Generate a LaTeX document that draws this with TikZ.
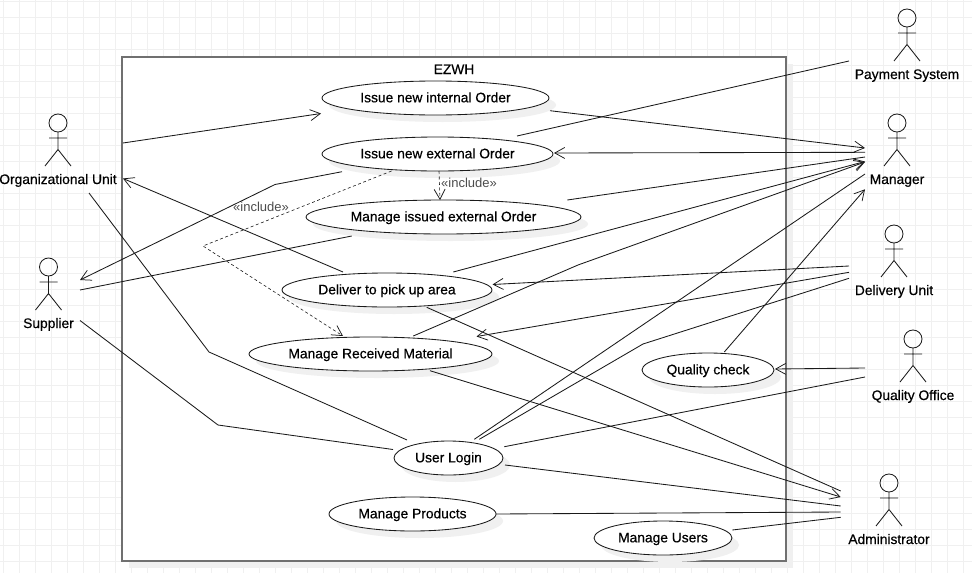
\documentclass[tikz,border=0pt]{standalone}
\usepackage{fontspec}
\setmainfont{Liberation Sans}
\newfontfamily\labelfont[FakeBold=0.45]{Liberation Sans}
\usetikzlibrary{arrows.meta,shapes.geometric,shadows}
\definecolor{gridgray}{HTML}{F0F0F0}
\definecolor{shadowgray}{HTML}{F0F0F0}
\definecolor{framegray}{HTML}{707070}
\definecolor{inkgray}{HTML}{1A1A1A}
\begin{document}
\begin{tikzpicture}[x=1pt,y=-1pt,line width=0.85pt,inkgray,
    usecase/.style={ellipse,draw,fill=white,inner sep=0pt,outer sep=0pt,minimum height=34pt,
      font=\labelfont\fontsize{13.8}{16}\selectfont,text=black,text height=11pt,text depth=2.4pt,
      copy shadow={shadow xshift=7pt,shadow yshift=-7pt,draw=none,fill=shadowgray}},
    actor head/.style={circle,draw,inner sep=0pt,outer sep=0pt,minimum size=18pt},
    actor text/.style={inner sep=0pt,anchor=base,font=\labelfont\fontsize{13.8}{16}\selectfont,text=black},
    stereo/.style={inner sep=0pt,anchor=base,font=\fontsize{13}{15}\selectfont,text=black!70},
    open/.style={-{Straight Barb[length=10pt,width=11pt,line width=0.75pt]}},
    dep/.style={dash pattern=on 3pt off 2.5pt,line width=0.6pt}
  ]
  \useasboundingbox (0,0) rectangle (972,573);

  % grid
  \foreach \x in {3,19,...,972} \draw[gridgray] (\x,0) -- (\x,573);
  \foreach \y in {1,17,...,573} \draw[gridgray] (0,\y) -- (972,\y);

  % system box
  \node[draw=framegray,line width=1.5pt,fill=white,rectangle,inner sep=0pt,outer sep=0pt,
    minimum width=664pt,minimum height=504pt,
    copy shadow={shadow xshift=7pt,shadow yshift=-7pt,draw=none,fill=shadowgray}] (ezwh) at (454,309) {};
  \node[actor text] (ezwhname) at (454,74) {EZWH};

  % use cases
  \node[usecase,minimum width=227pt] (intord) at (435.5,98) {Issue new internal Order};
  \node[usecase,minimum width=231pt] (extord) at (437.5,154) {Issue new external Order};
  \node[usecase,minimum width=275pt] (issued) at (443.5,217) {Manage issued external Order};
  \node[usecase,minimum width=210pt] (pickup) at (387,290) {Deliver to pick up area};
  \node[usecase,minimum width=243pt] (received) at (370.5,354) {Manage Received Material};
  \node[usecase,minimum width=132pt] (quality) at (708,370) {Quality check};
  \node[usecase,minimum width=109pt] (login) at (448.5,458) {User Login};
  \node[usecase,minimum width=167pt] (products) at (412.5,514) {Manage Products};
  \node[usecase,minimum width=138pt] (users) at (663,538) {Manage Users};

  % actors
  \foreach \name/\x/\y/\txt in {org/58/123/Organizational Unit,sup/48.5/267/Supplier,
      pay/907/18/Payment System,mgr/897/123/Manager,del/894/234/Delivery Unit,
      qof/913/339/Quality Office,adm/889/483/Administrator}
  {
    \node[actor head] (\name) at (\x,\y) {};
    \draw (\name.south) -- ++(0,17.5) -- ++(-13,16.5)
      (\name.south) ++(0,17.5) -- ++(13,16.5)
      (\name.south) ++(-9,6) -- ++(18,0);
    \node[actor text] (\name label) at (\x,\y+61) {\txt};
  }

  % bends
  \coordinate (bendsup) at (275,184.5);
  \coordinate (bendlogin) at (218,425);
  \coordinate (bendorg) at (209,352);
  \coordinate (bendinc) at (203,246);
  \coordinate (bendrec) at (578,265);
  \coordinate (benddel) at (643,344);

  \path%
   ([shift={(65,20)}]org.center) edge [open] ([shift={(-114.5,15.5)}]intord.center)
   ([shift={(114.5,12.7)}]intord.center) edge [open] ([shift={(-32,25)}]mgr.center)
   ([shift={(-32,29.3)}]mgr.center) edge [open] ([shift={(116.5,-1)}]extord.center)
   ([shift={(79.5,-18)}]extord.center) edge ([shift={(-58,43)}]pay.center)
   ([shift={(-44,-18)}]pickup.center) edge [open] ([shift={(65,55.5)}]org.center)
   ([shift={(31.5,23)}]sup.center) edge ([shift={(-91.8,19)}]issued.center)
   ([shift={(123.8,-17)}]issued.center) edge ([shift={(-32,34)}]mgr.center)
   ([shift={(66.3,-18)}]pickup.center) edge [open] ([shift={(-32,38.5)}]mgr.center)
   ([shift={(-45,32)}]del.center) edge [open] ([shift={(105.5,-5.5)}]pickup.center)
   ([shift={(-45,38.3)}]del.center) edge [open] ([shift={(106,-17.5)}]received.center)
   ([shift={(25.8,-18.7)}]login.center) edge ([shift={(-32,51)}]mgr.center)
   ([shift={(16.3,-18)}]quality.center) edge [open] ([shift={(-32,66.3)}]mgr.center)
   ([shift={(-48,29)}]qof.center) edge [open] ([shift={(67,-1)}]quality.center)
   ([shift={(55.8,-11.3)}]login.center) edge ([shift={(-48,38)}]qof.center)
   ([shift={(56.5,7)}]login.center) edge ([shift={(-48.3,23)}]adm.center)
   ([shift={(39.7,17.3)}]pickup.center) edge ([shift={(-48.3,8)}]adm.center)
   ([shift={(59.5,16.7)}]received.center) edge [open] ([shift={(-48.3,14)}]adm.center)
   ([shift={(83.5,0)}]products.center) edge ([shift={(-48.3,29)}]adm.center)
   ([shift={(69.3,-8)}]users.center) edge ([shift={(-48.3,34.3)}]adm.center);

  \draw[open] ([shift={(-95.5,17.7)}]extord.center) -- (bendsup) -- ([shift={(31.5,13)}]sup.center);
  \draw ([shift={(31.5,53.5)}]sup.center) -- (bendlogin) -- ([shift={(-55.5,-8.5)}]login.center);
  \draw ([shift={(31,70)}]org.center) -- (bendorg) -- ([shift={(-41.5,-18)}]login.center);
  \draw[open] ([shift={(42.8,-18)}]received.center) -- (bendrec) -- ([shift={(-32,39)}]mgr.center);
  \draw ([shift={(-45,44.3)}]del.center) -- (benddel) -- ([shift={(30.8,-18.7)}]login.center);

  % include
  \draw[open,dep] ([shift={(-46,17)}]extord.center) -- (bendinc) -- ([shift={(-27.5,-18)}]received.center);
  \draw[open,dep] ([shift={(1.5,17)}]extord.center) -- ([shift={(-3.5,-17)}]issued.center);
  \node[stereo] (incleft) at (261,211) {«include»};
  \node[stereo] (incright) at (469,187) {«include»};
\end{tikzpicture}
\end{document}
